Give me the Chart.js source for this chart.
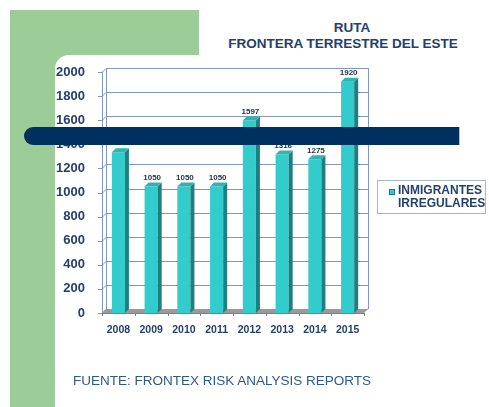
<!DOCTYPE html>
<html>
<head>
<meta charset="utf-8">
<script src="https://cdn.jsdelivr.net/npm/chart.js@4.4.0/dist/chart.umd.min.js"></script>
<style>
  body { margin: 0; width: 489px; height: 407px; position: relative; overflow: hidden; background: #fff; font-family: "Liberation Sans", Arial, sans-serif; }
  #green { position: absolute; left: 10px; top: 10px; width: 189px; height: 397px; background: #9ccc98; }
  #white { position: absolute; left: 55px; top: 55px; width: 434px; height: 352px; background: #fff; border-top-left-radius: 14px; }
  #wrap { position: absolute; left: 0; top: 0; width: 489px; height: 407px; }
  #band { position: absolute; left: 24px; top: 127px; width: 435px; height: 18px; background: #00305f; border-radius: 9px 0 0 9px; box-shadow: 1px 0 0 #a9bfdc; }
  .title { position: absolute; width: 300px; text-align: center; font-weight: bold; font-size: 13.5px; color: #23406e; }
  #legend { position: absolute; left: 377px; top: 180px; width: 109px; height: 34px; border: 1px solid #a8b8cc; box-sizing: border-box; }
  #legend .sw { position: absolute; left: 11px; top: 8px; width: 6px; height: 6px; background: #33cccc; border: 1px solid #1a8080; box-sizing: border-box; }
  #legend .txt { position: absolute; left: 20px; top: 3px; font-weight: bold; font-size: 12px; line-height: 13px; color: #23406e; }
  #source { position: absolute; left: 73px; top: 373px; font-size: 13.5px; color: #2c5a8c; }
</style>
</head>
<body>
<div id="green"></div>
<div id="white"></div>
<div class="title" style="left:202px; top:20px;">RUTA</div>
<div class="title" style="left:193px; top:36px;">FRONTERA TERRESTRE DEL ESTE</div>
<div id="wrap"><canvas id="chart" width="489" height="407"></canvas></div>
<div id="legend"><div class="sw"></div><div class="txt">INMIGRANTES<br>IRREGULARES</div></div>
<div id="band"></div>
<div id="source">FUENTE: FRONTEX RISK ANALYSIS REPORTS</div>
<script>
const years = ['2008', '2009', '2010', '2011', '2012', '2013', '2014', '2015'];
const migrants = [1335, 1050, 1050, 1050, 1597, 1316, 1275, 1920];
const yMax = 2000;
const yStep = 200;

const DEPTH = 4;
const gridColor = '#8197bf';

// back wall, grid lines and floor
const wallPlugin = {
  id: 'wall',
  beforeDatasetsDraw(chart) {
    const ctx = chart.ctx;
    const a = chart.chartArea;
    const y = chart.scales.y;
    ctx.save();
    ctx.strokeStyle = gridColor;
    ctx.lineWidth = 1;
    y.ticks.forEach(t => {
      const py = Math.round(y.getPixelForValue(t.value)) + 0.5;
      ctx.beginPath();
      ctx.moveTo(a.left - 4, py);
      ctx.lineTo(a.left, py);
      ctx.lineTo(a.left + DEPTH, py - DEPTH);
      ctx.lineTo(a.right + DEPTH, py - DEPTH);
      ctx.stroke();
    });
    ctx.beginPath();
    ctx.moveTo(a.left + 0.5, a.top - 0.5);
    ctx.lineTo(a.left + 0.5, a.bottom);
    ctx.moveTo(a.left + DEPTH + 0.5, a.top - DEPTH);
    ctx.lineTo(a.left + DEPTH + 0.5, a.bottom - DEPTH);
    ctx.moveTo(a.right + DEPTH + 0.5, a.top - DEPTH);
    ctx.lineTo(a.right + DEPTH + 0.5, a.bottom - DEPTH);
    ctx.stroke();
    // floor
    ctx.fillStyle = '#9a9a9a';
    ctx.beginPath();
    ctx.moveTo(a.left, a.bottom);
    ctx.lineTo(a.right, a.bottom);
    ctx.lineTo(a.right + DEPTH, a.bottom - DEPTH);
    ctx.lineTo(a.left + DEPTH, a.bottom - DEPTH);
    ctx.closePath();
    ctx.fill();
    ctx.strokeStyle = '#6f7f9f';
    ctx.beginPath();
    ctx.moveTo(a.left, a.bottom + 0.5);
    ctx.lineTo(a.right, a.bottom + 0.5);
    for (let i = 0; i <= years.length; i++) {
      const px = Math.round(a.left + i * (a.right - a.left) / years.length) + 0.5;
      ctx.moveTo(px, a.bottom);
      ctx.lineTo(px, a.bottom + 3);
    }
    ctx.stroke();
    ctx.restore();
  },
  afterDatasetsDraw(chart) {
    const ctx = chart.ctx;
    const meta = chart.getDatasetMeta(0);
    ctx.save();
    meta.data.forEach((bar, i) => {
      const w = bar.width;
      const l = bar.x - w / 2;
      const r = bar.x + w / 2;
      const top = bar.y;
      const base = bar.base;
      ctx.fillStyle = '#1c7f80';
      ctx.beginPath();
      ctx.moveTo(r, top);
      ctx.lineTo(r + DEPTH, top - DEPTH);
      ctx.lineTo(r + DEPTH, base - DEPTH);
      ctx.lineTo(r, base);
      ctx.closePath();
      ctx.fill();
      ctx.fillStyle = '#2fb3b3';
      ctx.beginPath();
      ctx.moveTo(l, top);
      ctx.lineTo(l + DEPTH, top - DEPTH);
      ctx.lineTo(r + DEPTH, top - DEPTH);
      ctx.lineTo(r, top);
      ctx.closePath();
      ctx.fill();
      ctx.fillStyle = '#1f2f4f';
      ctx.font = 'bold 8px "Liberation Sans", Arial, sans-serif';
      ctx.textAlign = 'center';
      ctx.textBaseline = 'middle';
      ctx.fillText(String(migrants[i]), bar.x + 1, top - 9);
    });
    ctx.restore();
  }
};

new Chart(document.getElementById('chart'), {
  type: 'bar',
  data: {
    labels: years,
    datasets: [{
      label: 'INMIGRANTES IRREGULARES',
      data: migrants,
      backgroundColor: '#33cccc',
      borderWidth: 0,
      categoryPercentage: 1,
      barPercentage: 0.4
    }]
  },
  options: {
    responsive: false,
    animation: false,
    layout: { padding: { left: 0, right: 125, top: 72, bottom: 72 } },
    plugins: {
      legend: { display: false },
      tooltip: { enabled: false }
    },
    scales: {
      x: {
        grid: { display: false },
        border: { display: false },
        ticks: { color: '#23406e', font: { family: '"Liberation Sans", Arial, sans-serif', size: 10.5, weight: 'bold' }, padding: 3 },
        afterFit(s) { s.height = 22; }
      },
      y: {
        min: 0,
        max: yMax,
        grid: { display: false },
        border: { display: false },
        ticks: {
          stepSize: yStep,
          color: '#23406e',
          font: { family: '"Liberation Sans", Arial, sans-serif', size: 13, weight: 'bold' },
          padding: 9,
          callback: v => String(v)
        },
        afterFit(s) { s.width = 102; }
      }
    }
  },
  plugins: [wallPlugin]
});
</script>
</body>
</html>
